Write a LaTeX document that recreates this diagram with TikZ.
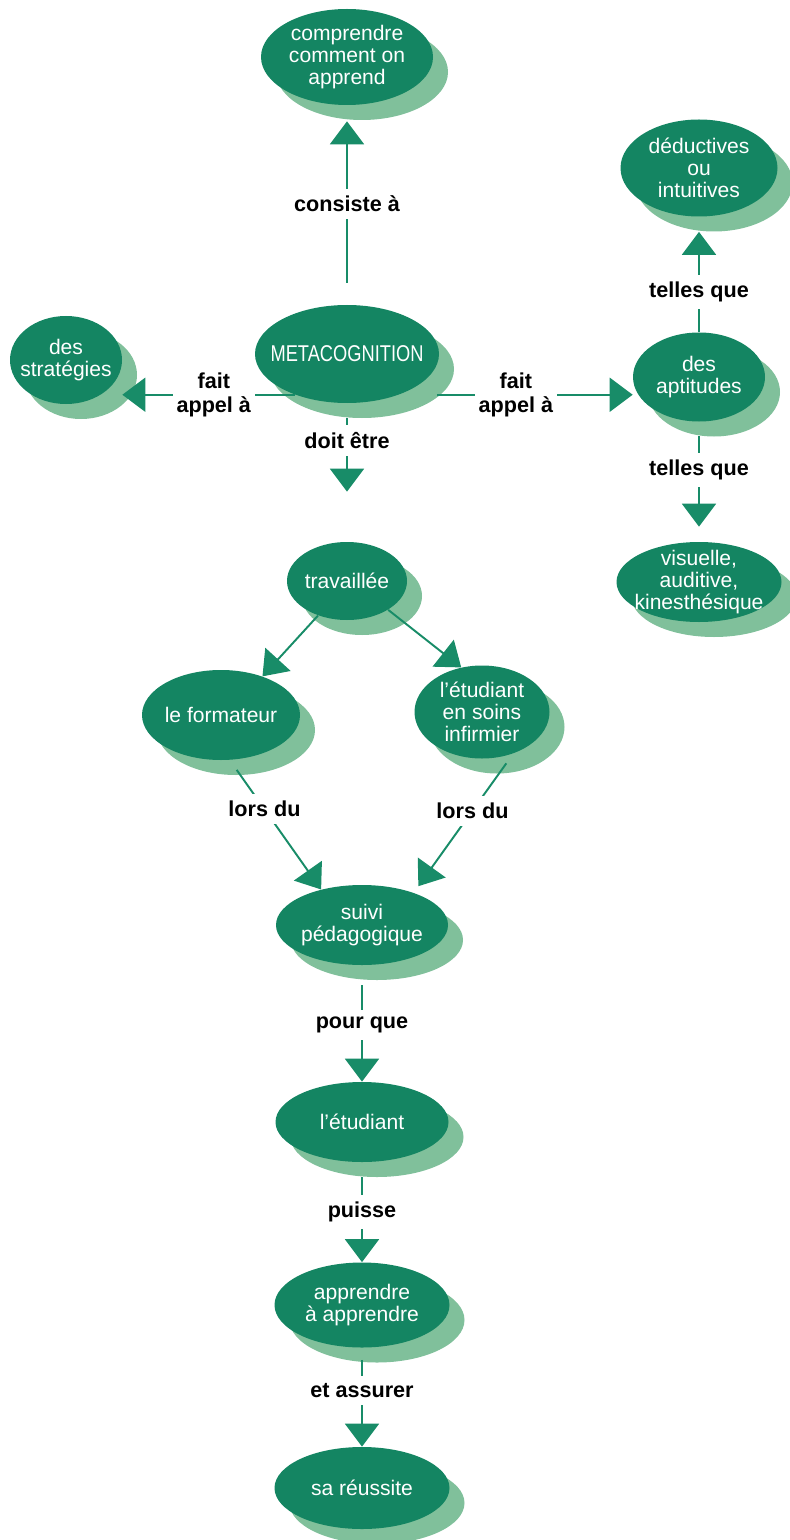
\documentclass[tikz,border=0pt]{standalone}
\usepackage{fontspec}
\setmainfont{Liberation Sans}
\newfontfamily\condfont[FakeStretch=0.8]{Liberation Sans}
\usepackage{tikz}
\usetikzlibrary{arrows.meta}
\usetikzlibrary{shapes.geometric}
\usetikzlibrary{shadows}
\newcommand{\px}{0.02cm}
\definecolor{bubblegreen}{RGB}{20,133,98}
\definecolor{shadowgreen}{RGB}{128,192,155}
\definecolor{linkgreen}{RGB}{24,140,104}
\tikzstyle{bubble}=[ellipse, fill=bubblegreen, text=white, align=center, inner sep=-4pt,
                    font=\fontsize{12}{12.5}\selectfont,
                    % light green shadow, down and to the right
                    drop shadow={shadow xshift=15*\px, shadow yshift=-15*\px, fill=shadowgreen, opacity=1}]
\tikzstyle{link}=[draw=linkgreen, line width=1.1pt, -{Triangle[width=0.68cm, length=0.46cm]}]
\tikzstyle{lbl}=[fill=white, text=black, align=center, inner xsep=2pt, inner ysep=4pt,
                 font=\fontsize{12.3}{13.6}\selectfont\bfseries]
\begin{document}
\begin{tikzpicture}[x=\px, y=-\px]
        \useasboundingbox (0, 0) rectangle (790, 1540);
        \node[bubble, minimum width=172*\px, minimum height=96*\px] (comp) at (347, 57) {comprendre\\comment on\\apprend};
        \node[bubble, inner sep=-12pt, minimum width=184*\px, minimum height=98*\px] (meta) at (347, 354) {\fontsize{13}{13}\condfont METACOGNITION};
        \node[bubble, minimum width=112*\px, minimum height=88*\px] (strat) at (66, 360) {des\\stratégies};
        \node[bubble, minimum width=157*\px, minimum height=97*\px] (ded) at (699, 168) {déductives\\ou\\intuitives};
        \node[bubble, minimum width=132*\px, minimum height=89*\px] (apt) at (699, 377) {des\\aptitudes};
        \node[bubble, minimum width=165*\px, minimum height=80*\px] (vis) at (699, 582) {visuelle,\\auditive,\\kinesthésique};
        \node[bubble, minimum width=120*\px, minimum height=78*\px] (trav) at (347, 581) {travaillée};
        \node[bubble, minimum width=158*\px, minimum height=90*\px] (form) at (221, 715) {le formateur};
        \node[bubble, minimum width=135*\px, minimum height=93*\px] (etu) at (482, 712) {l'étudiant\\en soins\\infirmier};
        \node[bubble, minimum width=172*\px, minimum height=80*\px] (suivi) at (362, 925) {suivi\\pédagogique};
        \node[bubble, minimum width=173*\px, minimum height=80*\px] (etud) at (362, 1122) {l'étudiant};
        \node[bubble, minimum width=175*\px, minimum height=85*\px] (appr) at (362, 1305) {apprendre\\à apprendre};
        \node[bubble, minimum width=175*\px, minimum height=82*\px] (reuss) at (362, 1488) {sa réussite};

        \draw[link, shorten <=22*\px] (meta.north) -- node[lbl, pos=.55] {consiste à} ([yshift=-16*\px]comp.south);
        \draw[link] (meta.218) -- node[lbl, pos=.47] {fait\\appel à} (meta.218 -| strat.east);
        \draw[link, shorten <=38*\px] (meta.-38) -- node[lbl, pos=.5] {fait\\appel à} (meta.-38 -| apt.west);
        \draw[link, shorten <=15*\px, shorten >=50*\px] (meta.south) -- node[lbl, pos=.27] {doit être} (trav.north);
        \draw[link] (apt.north) -- node[lbl, pos=.4] {telles que} ([yshift=-15*\px]ded.south);
        \draw[link, shorten <=14*\px, shorten >=15*\px] (apt.south) -- node[lbl, pos=.4] {telles que} (vis.north);
        \draw[link] (trav.230) -- (form.43);
        \draw[link] (trav.-35) -- (etu.115);
        \draw[link, shorten <=12*\px] (form.-79) -- node[lbl, pos=.38] {lors du} (suivi.139);
        \draw[link, shorten <=12*\px, shorten >=8*\px] (etu.-53) -- node[lbl, pos=.41] {lors du} (suivi.32);
        \draw[link, shorten <=20*\px] (suivi.south) -- node[lbl, pos=.51] {pour que} (etud.north);
        \draw[link, shorten <=15*\px] (etud.south) -- node[lbl, pos=.5] {puisse} (appr.north);
        \draw[link, shorten <=12*\px] (appr.south) -- node[lbl, pos=.43] {et assurer} (reuss.north);
\end{tikzpicture}
\end{document}
